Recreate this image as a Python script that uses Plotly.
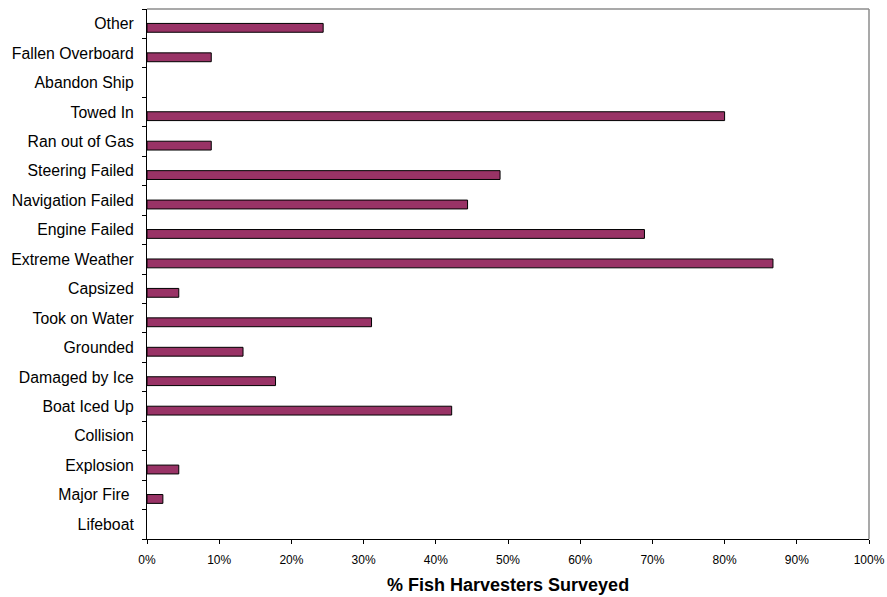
import plotly.graph_objects as go

# Incident categories, listed bottom to top
categories = [
    "Lifeboat", "Major Fire ", "Explosion", "Collision", "Boat Iced Up",
    "Damaged by Ice", "Grounded", "Took on Water", "Capsized",
    "Extreme Weather", "Engine Failed", "Navigation Failed",
    "Steering Failed", "Ran out of Gas", "Towed In", "Abandon Ship",
    "Fallen Overboard", "Other",
]

# Share of fish harvesters surveyed reporting each incident
share = [
    0.0, 0.022, 0.044, 0.0, 0.422,
    0.178, 0.133, 0.311, 0.044,
    0.867, 0.689, 0.444,
    0.489, 0.089, 0.800, 0.0,
    0.089, 0.244,
]

x_ticks = [i / 10 for i in range(11)]
x_title = "<b>% Fish Harvesters Surveyed</b>"

# no outline on empty bars so nothing shows at zero
outline_widths = [1 if v > 0 else 0 for v in share]

fig = go.Figure()
fig.add_trace(go.Bar(
    x=share,
    y=categories,
    orientation="h",
    width=0.3,
    offset=-0.29,
    marker=dict(color="#993366", line=dict(color="#000000", width=outline_widths)),
    hoverinfo="x+y",
))

font_family = "Liberation Sans, Arial, sans-serif"

fig.update_layout(
    width=887,
    height=597,
    margin=dict(l=147, r=18, t=9, b=58, autoexpand=False),
    paper_bgcolor="white",
    plot_bgcolor="white",
    showlegend=False,
    font=dict(family=font_family, color="black"),
    xaxis=dict(
        range=[0, 1],
        tickvals=x_ticks,
        tickformat=".0%",
        ticks="outside",
        ticklen=4,
        tickcolor="black",
        tickfont=dict(size=12, family=font_family, color="black"),
        ticklabelstandoff=6,
        showline=True,
        linecolor="black",
        linewidth=1,
        showgrid=False,
        zeroline=False,
        fixedrange=True,
        automargin=False,
    ),
    yaxis=dict(
        type="category",
        categoryorder="array",
        categoryarray=categories,
        range=[-0.5, len(categories) - 0.5],
        ticks="outside",
        tickson="boundaries",
        ticklen=4,
        tickcolor="black",
        tickfont=dict(size=15.8, family=font_family, color="black"),
        ticklabelstandoff=9,
        showline=True,
        linecolor="black",
        linewidth=1,
        showgrid=False,
        zeroline=False,
        fixedrange=True,
        automargin=False,
    ),
    annotations=[
        dict(text=x_title, xref="paper", yref="paper", x=0.5, y=0,
             xanchor="center", yanchor="middle", yshift=-46, showarrow=False,
             font=dict(size=18, family=font_family, color="black")),
    ],
    shapes=[
        # grey frame along the top and right of the plot area
        dict(type="line", xref="paper", yref="paper", x0=0, x1=1, y0=1, y1=1,
             line=dict(color="#8c8c8c", width=1.5)),
        dict(type="line", xref="paper", yref="paper", x0=1, x1=1, y0=0, y1=1,
             line=dict(color="#8c8c8c", width=1.5)),
    ],
)

fig.write_html("out.html")
